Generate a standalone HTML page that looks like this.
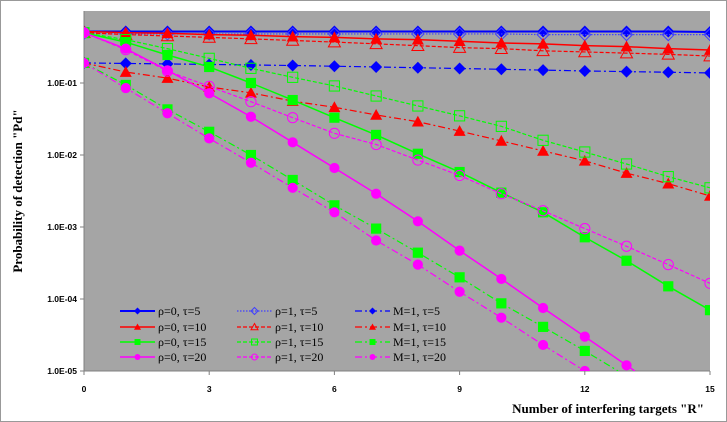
<!DOCTYPE html>
<html><head><meta charset="utf-8"><style>
html,body{margin:0;padding:0;background:#fff;width:727px;height:422px;overflow:hidden}
svg{display:block}
.tk{font-family:"Liberation Sans",sans-serif;font-size:8.5px;font-weight:bold;fill:#000}
.lg{font-family:"Liberation Serif",serif;font-size:12px;fill:#000}
.tt{font-family:"Liberation Serif",serif;font-size:13px;font-weight:bold;fill:#000}
</style></head><body>
<svg id="c" width="727" height="422" xmlns="http://www.w3.org/2000/svg">
<rect x="0.5" y="0.5" width="726" height="421" fill="#fff" stroke="#999"/>
<defs><clipPath id="cp"><rect x="84" y="11" width="626" height="360"/></clipPath></defs>
<rect x="84" y="11" width="626" height="360" fill="#a5a5a5"/>
<g id="axes"></g>
<g id="series" clip-path="url(#cp)"></g>
<g id="legend"></g>
<text class="tt" x="0" y="0" transform="translate(22,191) rotate(-90)" text-anchor="middle">Probability of detection "Pd"</text>
<text class="tt" x="704" y="413" text-anchor="end">Number of interfering targets "R"</text>
</svg>
<script>
const xCats=[0,1,2,3,4,5,6,7,8,9,10,11,12,13,14,15];
const yTickVals=[1e-1,1e-2,1e-3,1e-4,1e-5];
const yTickLabels=["1.0E-01","1.0E-02","1.0E-03","1.0E-04","1.0E-05"];
const xTickVals=[0,3,6,9,12,15];
const sRho0T5=[0.52,0.52,0.52,0.52,0.52,0.52,0.52,0.52,0.52,0.52,0.52,0.52,0.52,0.52,0.52,0.51];
const sRho1T5=[0.49,0.48,0.48,0.48,0.48,0.48,0.48,0.48,0.48,0.48,0.48,0.47,0.47,0.47,0.47,0.47];
const sM1T5=[0.19,0.187,0.184,0.181,0.178,0.175,0.171,0.167,0.163,0.159,0.155,0.151,0.147,0.144,0.141,0.138];
const sRho0T10=[0.52,0.50,0.49,0.47,0.46,0.44,0.43,0.41,0.40,0.38,0.36,0.35,0.33,0.32,0.30,0.287];
const sRho1T10=[0.50,0.47,0.45,0.43,0.41,0.39,0.37,0.35,0.33,0.31,0.30,0.28,0.27,0.26,0.25,0.237];
const sM1T10=[0.19,0.142,0.117,0.088,0.073,0.056,0.046,0.036,0.029,0.0215,0.0157,0.0114,0.0083,0.0056,0.0040,0.0027];
const sRho0T15=[0.5,0.37,0.245,0.167,0.1,0.058,0.033,0.019,0.0104,0.0058,0.003,0.0016,0.00072,0.00034,0.00015,0.00007];
const sRho1T15=[0.5,0.4,0.3,0.22,0.16,0.12,0.091,0.066,0.048,0.035,0.025,0.016,0.011,0.0075,0.005,0.0035];
const sM1T15=[0.19,0.094,0.043,0.021,0.01,0.0045,0.002,0.00095,0.00044,0.0002,0.000087,0.000041,0.000019,0.0000085,0.0000038,0.0000017];
const sRho0T20=[0.5,0.3,0.15,0.072,0.034,0.015,0.0066,0.0029,0.0012,0.00047,0.00019,0.000075,0.00003,0.000012,0.0000048,0.0000019];
const sRho1T20=[0.5,0.29,0.146,0.09,0.055,0.033,0.02,0.014,0.0085,0.0052,0.0029,0.00168,0.00095,0.00054,0.0003,0.000165];
const sM1T20=[0.19,0.085,0.038,0.017,0.0078,0.0035,0.0016,0.00065,0.0003,0.000126,0.000055,0.000023,0.00001,0.0000043,0.0000018,0.0000008];
const series=[
 {name:"ρ=0, τ=5",d:sRho0T5,c:"#0000ff",dash:"",m:"diamond",f:true,w:2},
 {name:"ρ=1, τ=5",d:sRho1T5,c:"#4040ff",dash:"1.5,1.5",m:"diamond",f:false,w:1.2},
 {name:"M=1, τ=5",d:sM1T5,c:"#0000ff",dash:"7,3,2,3",m:"diamond",f:true,w:1.2},
 {name:"ρ=0, τ=10",d:sRho0T10,c:"#ff0000",dash:"",m:"tri",f:true,w:1.5},
 {name:"ρ=1, τ=10",d:sRho1T10,c:"#ff0000",dash:"4,2",m:"tri",f:false,w:1.2},
 {name:"M=1, τ=10",d:sM1T10,c:"#ff0000",dash:"7,3,2,3",m:"tri",f:true,w:1.2},
 {name:"ρ=0, τ=15",d:sRho0T15,c:"#00ff00",dash:"",m:"sq",f:true,w:1.5},
 {name:"ρ=1, τ=15",d:sRho1T15,c:"#00ff00",dash:"4,2",m:"sq",f:false,w:1.2},
 {name:"M=1, τ=15",d:sM1T15,c:"#00ff00",dash:"7,3,2,3",m:"sq",f:true,w:1.2},
 {name:"ρ=0, τ=20",d:sRho0T20,c:"#ff00ff",dash:"",m:"circ",f:true,w:1.5},
 {name:"ρ=1, τ=20",d:sRho1T20,c:"#ff00ff",dash:"4,2",m:"circ",f:false,w:1.2},
 {name:"M=1, τ=20",d:sM1T20,c:"#ff00ff",dash:"7,3,2,3",m:"circ",f:true,w:1.2}
];
const NS="http://www.w3.org/2000/svg";
const L=84,R=710,T=11,B=371;
function xs(v){return L+(v-0)/(15-0)*(R-L);}
function ys(v){return T+(-Math.log10(v))/5*(B-T);}
function mk(tag,at,p){const e=document.createElementNS(NS,tag);for(const k in at)e.setAttribute(k,at[k]);p.appendChild(e);return e;}
const ax=document.getElementById('axes');
let a=mk('line',{x1:L,y1:T,x2:L,y2:B,stroke:'#808080'},ax);


a=mk('line',{x1:L,y1:B,x2:R,y2:B,stroke:'#808080'},ax);


yTickVals.forEach((v,i)=>{const y=ys(v);
 mk('line',{x1:L-4,y1:y,x2:L,y2:y,stroke:'#808080'},ax);
 const t=mk('text',{x:L-7,y:y+3,'text-anchor':'end',class:'tk'},ax);t.textContent=yTickLabels[i];
 
 });
xTickVals.forEach(v=>{const x=xs(v);
 mk('line',{x1:x,y1:B,x2:x,y2:B+4,stroke:'#808080'},ax);
 const t=mk('text',{x:x,y:392,'text-anchor':'middle',class:'tk'},ax);t.textContent=v;
 
 });
function marker(p,s,x,y,sz){
 const fill=s.f?s.c:'none';const st={fill:fill,stroke:s.c,'stroke-width':s.f?0:1};let e;
 if(s.m==='diamond'){e=mk('polygon',Object.assign({points:`${x},${y-sz} ${x+sz},${y} ${x},${y+sz} ${x-sz},${y}`},st),p);}
 else if(s.m==='tri'){e=mk('polygon',Object.assign({points:`${x},${y-sz} ${x+sz},${y+sz*0.8} ${x-sz},${y+sz*0.8}`},st),p);}
 else if(s.m==='sq'){const h=sz*0.85;e=mk('rect',Object.assign({x:x-h,y:y-h,width:2*h,height:2*h},st),p);}
 else {e=mk('circle',Object.assign({cx:x,cy:y,r:sz*0.85},st),p);}
 return e;}
const sg=document.getElementById('series');
series.forEach(s=>{
 const g=mk('g',{},sg);
 
 
 const pts=[];
 for(let i=0;i<s.d.length;i++){
  const x=xs(xCats[i]),y=ys(s.d[i]);
  if(y<=B){pts.push(x+','+y);continue;}
  if(i>0){const px=xs(xCats[i-1]),py=ys(s.d[i-1]);
   if(py<=B){const t=(B-py)/(y-py);pts.push((px+t*(x-px))+','+B);}}
  break;
 }
 mk('polyline',{points:pts.join(' '),fill:'none',stroke:s.c,'stroke-width':s.w,'stroke-dasharray':s.dash},g);
 s.d.forEach((v,i)=>{const y=ys(v);if(y>B+3)return;const m=marker(g,s,xs(xCats[i]),y,6);
  
  });
});
const lg=document.getElementById('legend');
const colX=[120,237,355],rowY=[311,327,342,357];
const order=[[0,3,6,9],[1,4,7,10],[2,5,8,11]];
order.forEach((colIdx,c)=>colIdx.forEach((si,r)=>{const s=series[si];
 const g=mk('g',{},lg);
 
 
 const x=colX[c],y=rowY[r];
 mk('line',{x1:x,y1:y,x2:x+35,y2:y,stroke:s.c,'stroke-width':s.w,'stroke-dasharray':s.dash},g);
 marker(g,s,x+17.5,y,3.5);
 const t=mk('text',{x:x+38,y:y+4,class:'lg'},g);t.textContent=s.name;}));
</script>
</body></html>
